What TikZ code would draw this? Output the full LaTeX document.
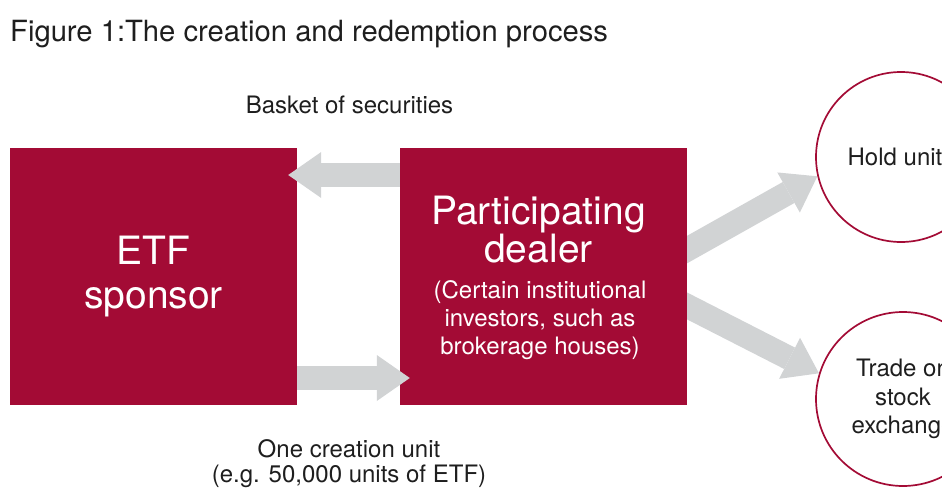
\documentclass[tikz,border=0pt]{standalone}
\usepackage{fontspec}
\setmainfont{TeX Gyre Heros}
\usetikzlibrary{arrows.meta,backgrounds}
\definecolor{crimson}{RGB}{163,11,53}
\definecolor{pfeilgrau}{RGB}{209,211,212}
\definecolor{ink}{RGB}{30,30,30}

\begin{document}
\begin{tikzpicture}[x=1pt,y=-1pt,
  box/.style={fill=crimson,minimum width=287pt,minimum height=257pt,inner sep=0pt,text=white,align=center},
  ring/.style={circle,draw=crimson,line width=1.7pt,inner sep=0pt,align=center,text=ink,font=\fontsize{24}{28.5}\selectfont},
  lbl/.style={align=center,text=ink,font=\fontsize{24}{24.5}\selectfont},
  fat/.style={draw=pfeilgrau,line width=24pt,-{Triangle[length=33pt,width=46pt,line width=0pt]}}]
  \useasboundingbox (0,0) rectangle (942,495);
  \clip (0,0) rectangle (942,495);
  % Titel
  \node[anchor=base west,inner sep=0pt,text=ink,font=\fontsize{29.2}{30}\selectfont] (titel) at (10,42) {Figure 1:The creation and redemption process};
  % Kaesten
  \node[box,font=\fontsize{39}{44}\selectfont] (sponsor) at (153.5,276.5) {ETF\\sponsor};
  \node[box] (dealer) at (543.5,276.5) {};
  \node[align=center,text=white,font=\fontsize{39}{38}\selectfont] (dealerkopf) at (538.5,230) {Participating\\dealer};
  \node[align=center,text=white,font=\fontsize{24}{28}\selectfont] (dealernote) at (540,320.5) {(Certain institutional\\investors, such as\\brokerage houses)};
  % Kreise
  \node[ring,minimum size=170pt] (hold) at (901,157) {Hold units};
  \node[ring,minimum size=174pt] (trade) at (903,399) {Trade on\\stock\\exchange};
  % Beschriftungen
  \node[lbl] (korb) at (349.5,105) {Basket of securities};
  \node[lbl] (einheit) at (349,463.8) {One creation unit\\(e.g. 50,000 units of ETF)};
  % Pfeile
  \draw[fat,shorten >=-9pt] ([yshift=101.5pt]dealer.west) -- ([yshift=101.5pt]sponsor.east);
  \draw[fat,shorten >=-10pt] ([yshift=-101.5pt]sponsor.east) -- ([yshift=-101.5pt]dealer.west);
  \begin{scope}[on background layer]
    \draw[fat,shorten <=-15pt] ([yshift=27pt]dealer.east) -- (hold.193);
    \draw[fat,shorten <=-15pt] ([yshift=-29.5pt]dealer.east) -- (trade.163);
  \end{scope}
\end{tikzpicture}
\end{document}
